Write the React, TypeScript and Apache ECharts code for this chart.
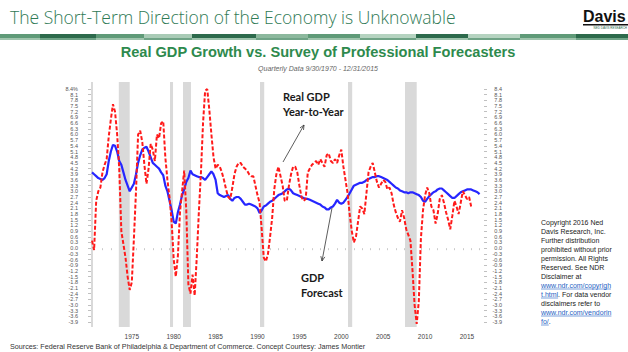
import React, { useEffect, useRef } from "react";
import * as echarts from "echarts";

// Quarterly data, first point = 1970Q3 (quarter end 9/30/1970)
const START_YEAR = 1970.75;
const QUARTER = 0.25;

// Real GDP, year-to-year % change (red dashed)
const REAL_GDP_YOY = [
  0.4, -0.1,
  2.5, 3.0, 3.2, 4.0,
  4.4, 4.7, 5.9, 6.8,
  7.6, 7.2, 6.0, 4.2,
  0.9, 0.2, -0.5, -1.5,
  -2.2, -1.8, 0.5, 3.0,
  6.0, 6.2, 5.6, 4.4,
  3.4, 4.2, 5.5, 5.2,
  4.6, 6.0, 5.8, 6.6,
  6.7, 4.8, 3.6, 2.7,
  1.4, -0.6, -1.5, -0.4,
  1.9, 3.0, 4.1, 2.0,
  -1.9, -2.4, -1.4, -2.5,
  -0.5, 1.9, 4.0, 6.6,
  8.3, 8.4, 7.3, 6.0,
  4.8, 4.2, 4.4, 4.3,
  4.0, 3.6, 3.1, 2.7,
  2.6, 3.2, 3.9, 4.3,
  4.5, 4.5, 4.3, 4.2,
  4.1, 3.9, 3.8, 3.8,
  3.3, 2.8, 2.4, 1.0,
  -0.5, -0.7, -0.3, 0.6,
  1.6, 3.1, 3.9, 4.3,
  3.8, 3.3, 2.5, 2.5,
  3.3, 3.9, 4.3, 4.3,
  4.0, 3.3, 2.7, 2.5,
  2.6, 4.0, 4.2, 4.4,
  4.5, 4.6, 4.4, 4.7,
  4.5, 4.3, 4.9, 5.0,
  4.6, 4.5, 4.7, 4.5,
  4.9, 5.2, 4.3, 3.6,
  2.9, 1.8, 0.9, 0.3,
  0.6, 1.4, 2.2, 2.1,
  1.8, 2.9, 4.0, 4.3,
  4.5, 4.0, 3.5, 3.2,
  3.4, 3.6, 3.5, 3.1,
  3.2, 2.9, 2.3, 1.9,
  1.6, 1.4, 2.0, 1.6,
  1.0, 0.7, 0.4, -1.2,
  -3.0, -4.0, -2.8, 0.5,
  2.0, 2.8, 3.2, 2.9,
  2.2, 2.0, 1.3, 1.8,
  2.6, 2.8, 2.4, 1.9,
  1.5, 1.0, 1.7, 2.5,
  2.2, 1.8, 2.4, 3.0,
  2.8, 2.6, 2.7, 2.2,
];

// Survey of Professional Forecasters GDP forecast (blue solid)
const GDP_FORECAST = [
  4.0, 3.9,
  3.8, 3.7, 3.65, 3.6,
  3.7, 3.9, 4.6, 5.1,
  5.45, 5.4, 5.1, 4.6,
  4.4, 4.0, 3.6, 3.3,
  3.0, 3.2, 3.4, 3.9,
  4.5, 4.9, 5.2, 5.3,
  5.35, 5.1, 4.8, 4.5,
  4.4, 4.3, 4.2, 4.0,
  3.85, 3.3, 3.0, 2.5,
  2.0, 1.4, 1.3, 1.9,
  2.3, 2.8, 3.1, 3.5,
  3.7, 4.1, 3.9, 3.85,
  3.8, 3.75, 3.75, 3.7,
  3.6, 3.75, 3.9, 4.05,
  3.9, 3.6, 2.9, 2.8,
  2.75, 2.7, 2.75, 2.8,
  2.6, 2.5, 2.65, 2.7,
  2.7, 2.6, 2.45, 2.3,
  2.3, 2.35, 2.3, 2.25,
  2.2, 2.1, 1.85, 2.0,
  2.2, 2.25, 2.35, 2.45,
  2.5, 2.6, 2.7, 2.8,
  2.85, 2.9, 3.0, 3.1,
  3.15, 3.05, 2.9, 2.85,
  2.8, 2.75, 2.7, 2.65,
  2.6, 2.6, 2.55, 2.5,
  2.45, 2.4, 2.35, 2.3,
  2.2, 2.15, 2.05, 2.05,
  2.15, 2.2, 2.35, 2.55,
  2.4, 2.35, 2.4, 2.55,
  2.7, 2.9, 3.1, 3.3,
  3.35, 3.4, 3.45, 3.45,
  3.5, 3.6, 3.65, 3.7,
  3.75, 3.75, 3.8, 3.8,
  3.75, 3.7, 3.65, 3.6,
  3.5, 3.4, 3.3, 3.2,
  3.15, 3.05, 3.0, 2.95,
  2.95, 2.9, 2.95, 2.95,
  2.9, 2.85, 2.8, 2.7,
  2.5, 2.45, 2.6, 2.75,
  2.85, 2.95, 3.0, 3.1,
  3.15, 3.15, 3.05, 2.95,
  2.85, 2.75, 2.65, 2.65,
  2.75, 2.85, 2.95, 3.0,
  3.05, 3.1, 3.1, 3.1,
  3.05, 3.0, 2.95, 2.85,
];

// Recession periods (shaded), decimal years
const RECESSIONS: [number, number][] = [
  [1970.6, 1970.87],
  [1973.95, 1975.25],
  [1980.06, 1980.42],
  [1981.61, 1982.56],
  [1990.8, 1991.3],
  [2001.3, 2001.8],
  [2008.1, 2009.5],
];

const Y_TICK_LABELS = [
  "8.4", "8.1", "7.8", "7.5", "7.2", "6.9", "6.6", "6.3", "6.0", "5.7", "5.4",
  "5.1", "4.8", "4.5", "4.2", "3.9", "3.6", "3.3", "3.0", "2.7", "2.4", "2.1",
  "1.8", "1.5", "1.2", "0.9", "0.6", "0.3", "0.0", "-0.3", "-0.6", "-0.9",
  "-1.2", "-1.5", "-1.8", "-2.1", "-2.4", "-2.7", "-3.0", "-3.3", "-3.6", "-3.9",
];

const X_TICK_LABELS = ["1975", "1980", "1985", "1990", "1995", "2000", "2005", "2010", "2015"];

const TITLE = "The Short-Term Direction of the Economy is Unknowable";
const CHART_TITLE = "Real GDP Growth vs. Survey of Professional Forecasters";
const CHART_SUBTITLE = "Quarterly Data 9/30/1970 - 12/31/2015";
const SOURCES =
  "Sources: Federal Reserve Bank of Philadelphia & Department of Commerce. Concept Courtesy: James Montier";
const COPYRIGHT_LINES = [
  "Copyright 2016 Ned",
  "Davis Research, Inc.",
  "Further distribution",
  "prohibited without prior",
  "permission. All Rights",
  "Reserved. See NDR",
  "Disclaimer at",
  "{l|www.ndr.com/copyrigh}",
  "{l|t.html}. For data vendor",
  "disclaimers refer to",
  "{l|www.ndr.com/vendorin}",
  "{l|fo/}.",
];

const FONT = "'Liberation Sans', Arial, sans-serif";

function measure(text: string, font: string): number {
  const c = document.createElement("canvas").getContext("2d");
  if (!c) return text.length * 3.5;
  c.font = font;
  return c.measureText(text).width;
}

function arrow(x1: number, y1: number, x2: number, y2: number): any[] {
  const a = Math.atan2(y2 - y1, x2 - x1);
  const L = 5;
  const s = 0.42;
  return [
    { type: "line", shape: { x1, y1, x2, y2 }, style: { stroke: "#333", lineWidth: 0.8 }, z: 20 },
    {
      type: "polyline",
      shape: {
        points: [
          [x2 - L * Math.cos(a - s), y2 - L * Math.sin(a - s)],
          [x2, y2],
          [x2 - L * Math.cos(a + s), y2 - L * Math.sin(a + s)],
        ],
      },
      style: { stroke: "#333", lineWidth: 0.8, fill: null },
      z: 20,
    },
  ];
}

export default function App() {
  const ref = useRef<HTMLDivElement>(null);

  useEffect(() => {
    const el = ref.current;
    if (!el) return;
    const chart = echarts.init(el, null, { renderer: "svg" });

    const redData = REAL_GDP_YOY.map((v, i) => [START_YEAR + i * QUARTER, v]);
    const blueData = GDP_FORECAST.map((v, i) => [START_YEAR + i * QUARTER, v]);
    const yValues = Y_TICK_LABELS.map(Number);
    const evenValues = yValues.filter((_, i) => i % 2 === 0);
    const oddValues = yValues.filter((_, i) => i % 2 === 1);
    const xLabelValues = X_TICK_LABELS.map((y) => Number(y) + 0.5);
    const xTickValues: number[] = [];
    for (let y = 1971; y <= 2017; y++) xTickValues.push(y);

    const yLabel = (isLeft: boolean) => (v: number) => {
      const idx = yValues.findIndex((t) => Math.abs(t - v) < 1e-6);
      if (idx < 0) return "";
      const s = Y_TICK_LABELS[idx];
      return isLeft && idx === 0 ? s + "%" : s;
    };

    // Two axes per side (alternate ticks) so that no tick label is hidden by overlap logic
    const yAxisBase = (isLeft: boolean, values: number[]) => ({
      type: "value",
      position: isLeft ? "left" : "right",
      offset: 0,
      min: -4.16,
      max: 8.77,
      splitLine: { show: false },
      axisLine: { show: false },
      axisTick: {
        show: true,
        customValues: values,
        length: 3,
        lineStyle: { color: "#b0b0b0", width: 0.8 },
      },
      axisLabel: {
        customValues: values,
        formatter: yLabel(isLeft),
        interval: 0,
        showMinLabel: true,
        showMaxLabel: true,
        hideOverlap: false,
        fontSize: 5.5,
        color: "#555",
        fontFamily: FONT,
        align: "right",
        margin: isLeft ? 13 : 18,
      },
    });

    // stripe
    const stripeTop = ["#5f9a78", "#2d6a4c", "#5f9a78", "#a9cbb6", "#2d6a4c", "#8cb89d", "#5f9a78", "#b5d3c0", "#2d6a4c", "#b5d3c0", "#5f9a78", "#2d6a4c"];
    const stripeEdges = [0, 40, 96, 144, 192, 256, 308, 360, 416, 468, 520, 576, 628];
    const stripe: any[] = [];
    for (let i = 0; i < stripeTop.length; i++) {
      stripe.push({
        type: "rect",
        shape: { x: stripeEdges[i], y: 34, width: stripeEdges[i + 1] - stripeEdges[i], height: 4 },
        style: { fill: stripeTop[i] },
      });
      stripe.push({
        type: "rect",
        shape: { x: stripeEdges[i], y: 38, width: stripeEdges[i + 1] - stripeEdges[i], height: 2 },
        style: { fill: i % 2 === 0 ? "#9fc4ad" : "#6fa386" },
      });
    }

    // copyright block
    const cx = 541;
    const cy0 = 222;
    const lh = 9;
    const cFont = `7px ${FONT}`;
    const copyright: any[] = [];
    COPYRIGHT_LINES.forEach((line, i) => {
      const y = cy0 + i * lh;
      copyright.push({
        type: "text",
        x: cx,
        y,
        z: 20,
        style: {
          text: line,
          fontSize: 7,
          fontFamily: FONT,
          fill: "#222",
          textAlign: "left",
          textVerticalAlign: "middle",
          rich: { l: { fill: "#1f5fc4", fontSize: 7, fontFamily: FONT } },
        },
      });
      const m = line.match(/\{l\|([^}]*)\}/);
      if (m) {
        const w = measure(m[1], cFont);
        copyright.push({
          type: "line",
          z: 20,
          shape: { x1: cx, y1: y + 4, x2: cx + w, y2: y + 4 },
          style: { stroke: "#1f5fc4", lineWidth: 0.6 },
        });
      }
    });

    const annoFont = "Lato, 'Open Sans', sans-serif";
    const annotation = (text: string, x: number, y: number) => ({
      type: "text",
      x,
      y,
      z: 20,
      style: {
        text,
        fontSize: 11,
        fontWeight: "bold",
        fontFamily: annoFont,
        fill: "#1a1a1a",
        textAlign: "left",
        textVerticalAlign: "middle",
      },
    });

    const option: any = {
      animation: false,
      backgroundColor: "#ffffff",
      grid: { left: 91, right: 144, top: 82, bottom: 25, containLabel: false },
      xAxis: {
        type: "value",
        min: 1970.63,
        max: 2017.53,
        splitLine: { show: false },
        axisLine: { show: false },
        axisTick: {
          show: true,
          customValues: xTickValues,
          length: 2,
          lineStyle: { color: "#bdbdbd", width: 0.8 },
        },
        axisLabel: {
          customValues: xLabelValues,
          formatter: (v: number) => String(Math.floor(v)),
          fontSize: 6.5,
          color: "#444",
          fontFamily: FONT,
          margin: 6,
        },
      },
      yAxis: [
        yAxisBase(true, evenValues),
        yAxisBase(false, evenValues),
        yAxisBase(true, oddValues),
        yAxisBase(false, oddValues),
      ],
      series: [
        {
          type: "line",
          name: "GDP Forecast",
          data: blueData,
          yAxisIndex: 0,
          showSymbol: false,
          symbol: "none",
          lineStyle: { color: "#2626ff", width: 2.2 },
          z: 3,
          markArea: {
            silent: true,
            itemStyle: { color: "#d9d9d9" },
            data: RECESSIONS.map(([a, b]) => [{ xAxis: a }, { xAxis: b }]),
          },
        },
        {
          type: "line",
          name: "Real GDP Year-to-Year",
          data: redData,
          yAxisIndex: 0,
          showSymbol: false,
          symbol: "none",
          lineStyle: { color: "#ff1a1a", width: 2, type: [4, 2] },
          z: 4,
        },
      ],
      graphic: [
        {
          type: "text",
          x: 10,
          y: 17,
          style: {
            text: TITLE,
            fontSize: 17.5,
            fontWeight: 300,
            fontFamily: "'Open Sans', 'Noto Sans', sans-serif",
            fill: "#2f7a55",
            textAlign: "left",
            textVerticalAlign: "middle",
          },
        },
        {
          type: "text",
          x: 583,
          y: 16,
          style: {
            text: "Davis",
            fontSize: 16,
            fontWeight: "bold",
            fontFamily: FONT,
            fill: "#111",
            textAlign: "left",
            textVerticalAlign: "middle",
          },
        },
        { type: "rect", shape: { x: 583, y: 24, width: 45, height: 1.5 }, style: { fill: "#111" } },
        {
          type: "text",
          x: 627,
          y: 28,
          style: {
            text: "NED DAVIS RESEARCH",
            fontSize: 3,
            fontFamily: FONT,
            fill: "#2d6a4c",
            textAlign: "right",
            textVerticalAlign: "middle",
          },
        },
        ...stripe,
        {
          type: "text",
          x: 318,
          y: 52,
          style: {
            text: CHART_TITLE,
            fontSize: 14.6,
            fontWeight: "bold",
            fontFamily: FONT,
            fill: "#2e8a4d",
            textAlign: "center",
            textVerticalAlign: "middle",
          },
        },
        {
          type: "text",
          x: 318,
          y: 68,
          style: {
            text: CHART_SUBTITLE,
            fontSize: 7,
            fontStyle: "italic",
            fontFamily: FONT,
            fill: "#666",
            textAlign: "center",
            textVerticalAlign: "middle",
          },
        },
        annotation("Real GDP", 283, 96),
        annotation("Year-to-Year", 283, 111),
        ...arrow(283, 162, 304, 125),
        annotation("GDP", 301, 277),
        annotation("Forecast", 301, 292),
        ...arrow(332, 208, 322, 261),
        ...copyright,
        {
          type: "text",
          x: 10,
          y: 346,
          style: {
            text: SOURCES,
            fontSize: 7.2,
            fontFamily: FONT,
            fill: "#333",
            textAlign: "left",
            textVerticalAlign: "middle",
          },
        },
      ],
    };

    chart.setOption(option);
    return () => chart.dispose();
  }, []);

  return (
    <div
      ref={ref}
      style={{ position: "absolute", left: 0, top: 0, width: 628, height: 352, background: "#fff" }}
    />
  );
}
